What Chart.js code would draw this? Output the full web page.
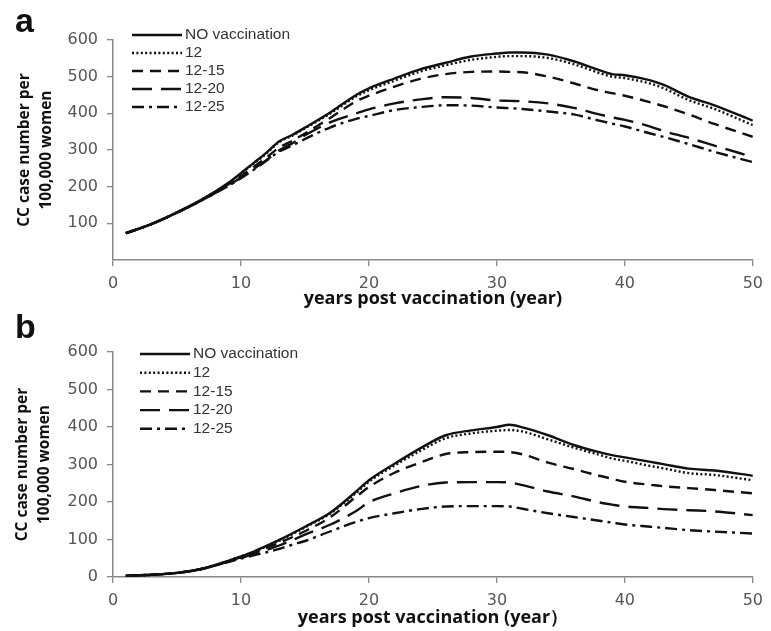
<!DOCTYPE html>
<html><head><meta charset="utf-8">
<script src="https://cdn.jsdelivr.net/npm/chart.js@4.4.1/dist/chart.umd.min.js"></script>
<style>
html,body{margin:0;padding:0;background:#fff;}
#wrap{position:relative;width:771px;height:631px;background:#fff;}
canvas{position:absolute;left:0;}
</style></head><body>
<div id="wrap">
<canvas id="ca" width="771" height="310" style="top:0"></canvas>
<canvas id="cb" width="771" height="321" style="top:310px"></canvas>
</div>
<script>
const years = [1,3,5,7,9,10,11,12,13,14,15,17,19,20,22,24,26,28,30,31,32,34,36,38,39,40,42,43,45,47,50];
const seriesLabels = ['NO vaccination','12','12-15','12-20','12-25'];
const yTicksA = [100,200,300,400,500,600];
const yTicksB = [0,100,200,300,400,500,600];
const xTicks = [0,10,20,30,40,50];

// Panel a
const aNoVac = [73,98,130,166,210,237,265,293,324,341,361,403,450,468,495,520,538,555,563,566,566,560,542,518,507,504,490,478,445,422,380];
const a12    = [73,98,130,166,209,236,263,291,322,339,359,400,446,463,489,514,531,546,554,556,556,551,534,510,500,496,481,469,436,412,368];
const a1215  = [73,98,129,165,206,229,254,280,307,325,345,388,433,448,473,494,507,513,514,513,512,500,482,462,455,448,430,420,397,371,336];
const a1220  = [73,98,129,164,203,225,248,273,299,318,340,376,400,411,427,438,444,442,435,434,433,427,415,397,389,382,364,352,333,312,281];
const a1225  = [73,98,129,164,202,223,246,271,296,312,330,362,385,393,409,417,422,421,416,414,412,405,397,380,372,364,345,336,316,295,267];

// Panel b
const bNoVac = [3,6,11,22,43,55,68,83,99,116,134,172,228,258,302,343,378,391,400,406,399,378,352,333,325,319,307,301,289,284,270];
const b12    = [3,6,11,22,43,55,67,82,97,114,132,170,224,254,297,336,370,383,390,392,388,367,345,326,316,310,296,290,277,272,258];
const b1215  = [3,6,11,22,42,53,64,77,91,106,122,160,214,240,278,305,328,333,334,333,327,305,288,270,262,254,246,242,237,232,223];
const b1220  = [3,6,11,22,41,51,61,72,84,98,113,140,176,199,223,242,252,253,253,252,245,228,215,199,193,188,184,181,178,175,165];
const b1225  = [3,6,11,22,40,49,58,66,75,86,96,122,147,157,170,181,188,189,189,188,182,170,160,150,145,140,134,131,125,121,116];

const dashes = [[], [2,2.4], [11,7], [20,9], [12,5,3,5]];

const decor = {
  id: 'decor',
  afterDraw(chart, args, o) {
    const ctx = chart.ctx;
    ctx.save();
    ctx.fillStyle = '#111';
    ctx.font = 'bold 34px "Liberation Sans", Arial, sans-serif';
    ctx.textBaseline = 'alphabetic';
    ctx.textAlign = 'left';
    ctx.fillText(o.letter, o.letterX, o.letterY);
    ctx.font = '15.5px "Liberation Sans", Arial, sans-serif';
    ctx.textBaseline = 'middle';
    chart.data.datasets.forEach((ds, i) => {
      const y = o.legY + i * o.legGap;
      ctx.beginPath();
      ctx.setLineDash(ds.borderDash || []);
      ctx.lineWidth = ds.borderWidth;
      ctx.strokeStyle = ds.borderColor;
      ctx.moveTo(o.legX, y);
      ctx.lineTo(o.legX + o.legLen, y);
      ctx.stroke();
      ctx.setLineDash([]);
      ctx.fillStyle = '#333';
      ctx.fillText(ds.label, o.legX + o.legLen + 3, y);
    });
    ctx.restore();
  }
};

function makeChart(id, series, cfg) {
  const datasets = series.map((s, i) => ({
    label: seriesLabels[i],
    data: years.map((x, j) => ({x: x, y: s[j]})),
    borderColor: '#111',
    borderWidth: 2.4,
    borderDash: dashes[i],
    pointRadius: 0,
    cubicInterpolationMode: 'monotone',
    fill: false
  }));
  return new Chart(document.getElementById(id), {
    type: 'line',
    data: { datasets },
    plugins: [decor],
    options: {
      responsive: false,
      animation: false,
      layout: { padding: { top: cfg.top, right: 13, left: 0, bottom: 0 } },
      plugins: {
        legend: { display: false },
        tooltip: { enabled: false },
        decor: cfg.decor
      },
      scales: {
        x: {
          type: 'linear', min: 0, max: 50,
          afterBuildTicks: (s) => { s.ticks = xTicks.map(v => ({value: v})); },
          ticks: { color: '#555', font: { family: '"DejaVu Sans", Verdana, sans-serif', size: 16 }, padding: 8, maxRotation: 0 },
          grid: { drawOnChartArea: false, drawTicks: true, tickLength: 6, tickColor: '#888', lineWidth: 1.3 },
          border: { display: true, color: '#888', width: 1.5 },
          title: { display: true, text: cfg.xTitle, color: '#111',
                   font: { family: '"Open Sans", "DejaVu Sans", sans-serif', size: 18, weight: 'bold', lineHeight: 1.2 },
                   padding: { top: 0, bottom: cfg.xTitlePad } },
          afterFit: (s) => { s.height = cfg.xH; }
        },
        y: {
          min: 0, max: 600,
          afterBuildTicks: (s) => { s.ticks = cfg.yTicks.map(v => ({value: v})); },
          ticks: { color: '#555', font: { family: '"DejaVu Sans", Verdana, sans-serif', size: 16 }, padding: 9 },
          grid: { drawOnChartArea: false, drawTicks: true, tickLength: 6, tickColor: '#888', lineWidth: 1.3 },
          border: { display: true, color: '#888', width: 1.5 },
          title: { display: true, text: ['CC case number per', '100,000 women'], color: '#111',
                   font: { family: '"Open Sans", "DejaVu Sans", sans-serif', size: 15.5, weight: 'bold', lineHeight: 1.4 },
                   padding: { top: cfg.yTitlePad, bottom: 0 } },
          afterFit: (s) => { s.width = 113; }
        }
      }
    }
  });
}

makeChart('ca', [aNoVac, a12, a1215, a1220, a1225], {
  top: 40, xH: 50, xTitlePad: 0, yTitlePad: 14, yTicks: yTicksA,
  xTitle: 'years post vaccination (year)',
  decor: { letter: 'a', letterX: 15, letterY: 32, legX: 132, legY: 35, legGap: 18, legLen: 50 }
});
makeChart('cb', [bNoVac, b12, b1215, b1220, b1225], {
  top: 42, xH: 54, xTitlePad: 2, yTitlePad: 12, yTicks: yTicksB,
  xTitle: 'years post vaccination (year）',
  decor: { letter: 'b', letterX: 15, letterY: 28, legX: 140, legY: 44, legGap: 18.7, legLen: 50 }
});
</script>
</body></html>
